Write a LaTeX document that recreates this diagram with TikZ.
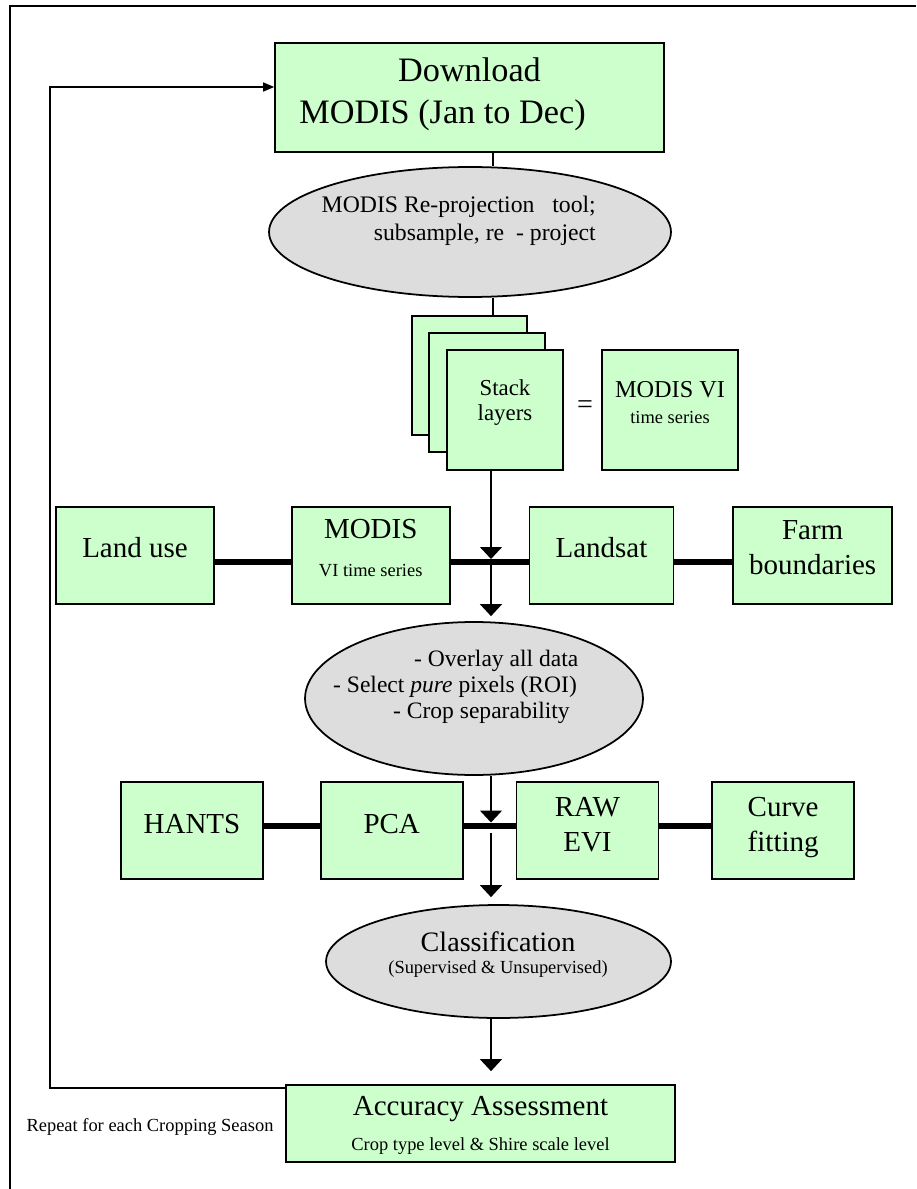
\documentclass[tikz,border=0pt]{standalone}
\usepackage{fontspec}
\setmainfont{Liberation Serif}
\usetikzlibrary{positioning, arrows.meta, shapes.geometric}
\definecolor{boxgreen}{HTML}{CCFFCC}
\definecolor{ovalgrey}{HTML}{DDDDDD}

\begin{document}
\begin{tikzpicture}[x=0.02cm, y=-0.02cm,
    block/.style={rectangle, draw=black, line width=1pt, fill=boxgreen, align=center,
                  inner sep=0pt, font=\fontsize{16.5}{20}\selectfont},
    rowbox/.style={block, minimum height=1.94cm, text depth=9pt},
    oval/.style={ellipse, draw=black, line width=1pt, fill=ovalgrey, inner sep=0pt},
    link/.style={line width=0.8pt},
    bus/.style={line width=3.6pt},
    arr/.style={line width=0.8pt, -{Triangle[width=0.44cm, length=0.24cm]}},
    note/.style={font=\fontsize{10.5}{12}\selectfont}
  ]
  \useasboundingbox (0,0) rectangle (916,1189);

  % Frame
  \draw[line width=1.1pt] (10,1189) -- (10,6) -- (916,6);

  % Download
  \node[block, minimum width=7.78cm, minimum height=2.18cm,
        font=\fontsize{19.5}{24}\selectfont, text depth=7.4pt] (dl) at (469.5,97.5)
        {Download\\MODIS (Jan to Dec)\hspace*{1.08cm}};

  % Re-projection
  \node[oval, minimum width=8.04cm, minimum height=2.6cm] (rp) at (470,232) {};
  \node[align=right, anchor=east, font=\fontsize{13.5}{16}\selectfont] (rptxt) at (602,221)
        {MODIS Re-projection\enspace\ tool;\\subsample, re\enspace-~project};

  % Stack
  \node[block, minimum width=2.3cm, minimum height=2.38cm] (stk1) at (469.5,375.5) {};
  \node[block, minimum width=2.32cm, minimum height=2.38cm] (stk2) at (487,392.5) {};
  \node[block, minimum width=2.32cm, minimum height=2.4cm,
        font=\fontsize{13}{14.7}\selectfont, text depth=11.3pt] (stk3) at (505,410) {Stack\\layers};
  \node[font=\fontsize{16}{16}\selectfont] (eq) at (585,407) {=};
  \node[block, minimum width=2.72cm, minimum height=2.4cm,
        font=\fontsize{13.8}{15}\selectfont, text depth=8.5pt] (vi) at (670,410)
        {MODIS VI\\{\fontsize{10.5}{12}\selectfont time series}};

  % Data row
  \node[rowbox, minimum width=3.16cm] (lu) at (135,555.5) {Land use};
  \node[rowbox, minimum width=3.16cm, right=1.52cm of lu] (mvi)
        {MODIS\\[1.5pt]{\fontsize{10.5}{12}\selectfont VI time series}};
  \node[rowbox, minimum width=2.88cm, right=1.56cm of mvi] (ls) {Landsat};
  \node[rowbox, minimum width=3.18cm, right=1.16cm of ls] (fb) {Farm\\boundaries};

  % Overlay
  \node[oval, minimum width=6.76cm, minimum height=3.06cm] (ov) at (474,698.5) {};
  \node[align=left, anchor=west, font=\fontsize{13.4}{15}\selectfont] (ovtxt) at (327,687)
        {\hspace*{1.62cm}- Overlay all data\\- Select \textit{pure} pixels (ROI)\\\hspace*{1.2cm}- Crop separability};

  % Method row
  \node[rowbox, minimum width=2.84cm, text depth=7pt] (ha) at (192,830.5) {HANTS};
  \node[rowbox, minimum width=2.84cm, text depth=7pt, right=1.12cm of ha] (pca) {PCA};
  \node[rowbox, minimum width=2.84cm, text depth=7pt, right=1.04cm of pca] (raw) {RAW\\EVI};
  \node[rowbox, minimum width=2.84cm, text depth=7pt, right=1.04cm of raw] (cf) {Curve\\fitting};

  % Classification
  \node[oval, minimum width=6.9cm, minimum height=2.26cm] (cls) at (498.5,961.5) {};
  \node[align=center, font=\fontsize{16}{12.5}\selectfont] (clstxt) at (498,955)
        {Classification\\{\fontsize{10.5}{12}\selectfont (Supervised \& Unsupervised)}};

  % Accuracy
  \node[block, minimum width=7.78cm, minimum height=1.54cm, text depth=0pt] (acc) at (480.5,1123.5)
        {Accuracy Assessment\\{\fontsize{10.5}{12}\selectfont Crop type level \& Shire scale level}};
  \node[note] (rep) at (150,1127) {Repeat for each Cropping Season};

  % Connectors
  \coordinate (spine) at (493,0);
  \coordinate (spineb) at (491,0);
  \coordinate (busa) at (0,562);
  \coordinate (busb) at (0,826);
  \draw[link] (dl.south -| spine) -- (rp.north -| spine);
  \draw[link] (rp.south -| spine) -- (stk1.north -| spine);
  \draw[arr, shorten >=0.06cm] (stk3.south -| spineb) -- (spineb |- busa);
  \draw[arr, shorten <=0.06cm, shorten >=0.1cm] (spineb |- busa) -- (ov.north -| spineb);
  \draw[arr, shorten >=0.07cm] (ov.south -| spineb) -- (spineb |- busb);
  \draw[arr, shorten <=0.14cm, shorten >=0.14cm] (spineb |- busb) -- (cls.north -| spineb);
  \draw[arr, shorten >=0.26cm] (cls.south -| spineb) -- (acc.north -| spineb);

  % Bus lines
  \draw[bus] (lu.east |- busa) -- (mvi.west |- busa);
  \draw[bus] (mvi.east |- busa) -- (ls.west |- busa);
  \draw[bus] (ls.east |- busa) -- (fb.west |- busa);
  \draw[bus] (ha.east |- busb) -- (pca.west |- busb);
  \draw[bus] (pca.east |- busb) -- (raw.west |- busb);
  \draw[bus] (raw.east |- busb) -- (cf.west |- busb);

  % Repeat loop
  \coordinate (loopx) at (50,0);
  \coordinate (fbin) at ([yshift=0.21cm]dl.west);
  \coordinate (fbout) at ([yshift=-0.08cm]acc.north west);
  \draw[link, -{Triangle[width=0.18cm, length=0.22cm]}] (fbout) -| (loopx |- fbin) -- (fbin);
\end{tikzpicture}
\end{document}
